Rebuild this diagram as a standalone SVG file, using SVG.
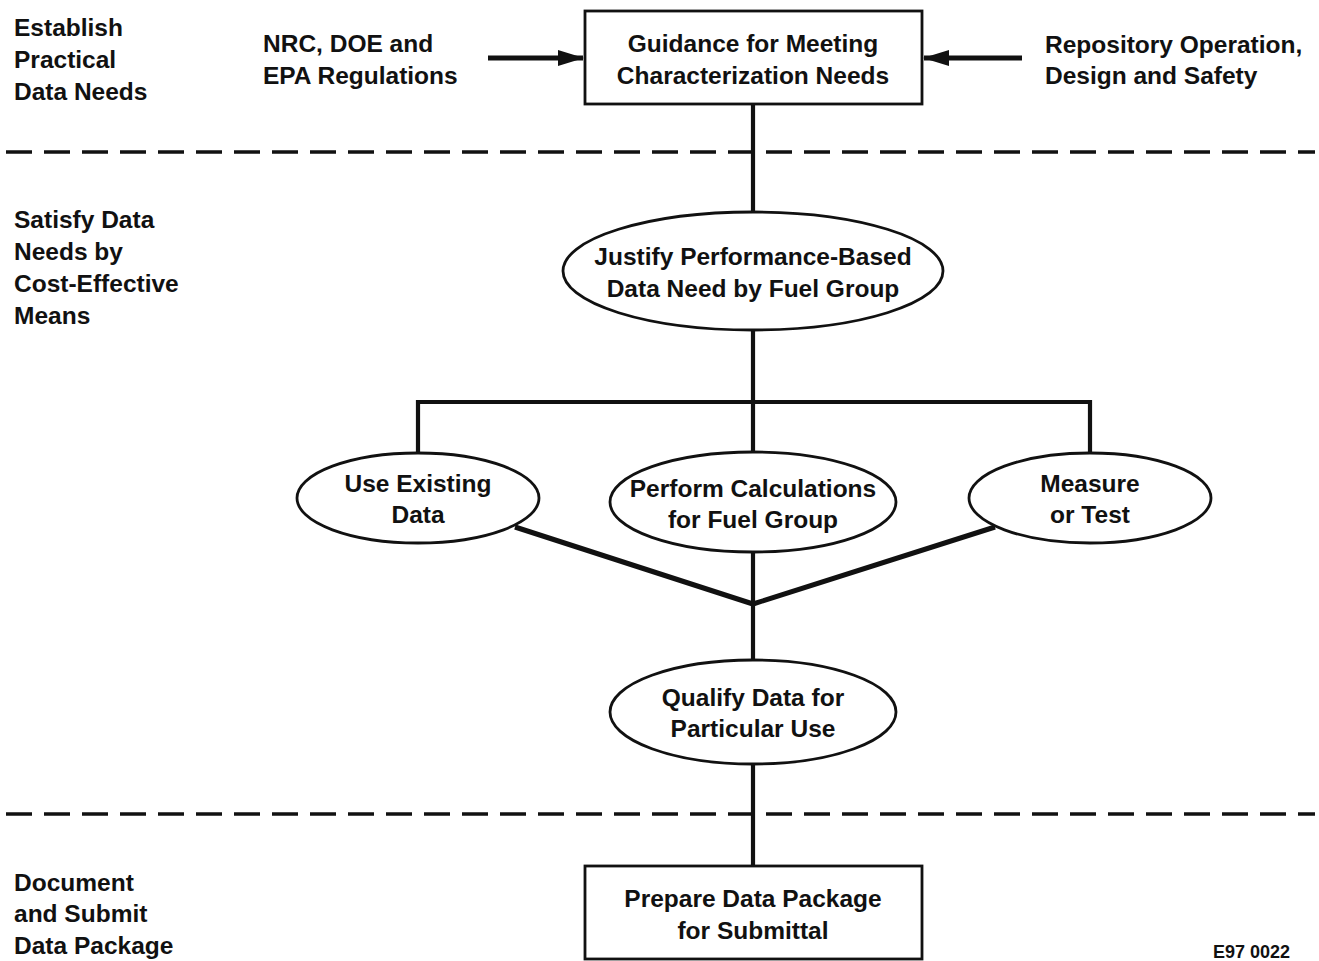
<svg xmlns="http://www.w3.org/2000/svg" width="1319" height="961" viewBox="0 0 1319 961">
<defs>
<style>
text{font-family:"Liberation Sans",Arial,sans-serif;font-size:24.5px;font-weight:bold;fill:#111}
.c{text-anchor:middle}
.shape{fill:#fff;stroke:#111;stroke-width:2.8}
.ln{stroke:#111;stroke-width:4.2;fill:none;stroke-linecap:square}
.arr{stroke:#111;stroke-width:5;fill:none}
.dash{stroke:#111;stroke-width:3.5;stroke-dasharray:26 12;fill:none}
</style>
<marker id="ah" viewBox="0 0 26 16" refX="25" refY="8" markerWidth="26" markerHeight="16" markerUnits="userSpaceOnUse" orient="auto">
<path d="M0,0 L26,8 L0,16 Z" fill="#111"/>
</marker>
</defs>
<rect width="1319" height="961" fill="#fff"/>
<g id="dividers">
<line class="dash" x1="6" y1="152" x2="1315" y2="152"/>
<line class="dash" x1="6" y1="814" x2="1315" y2="814"/>
</g>
<g id="connectors">
<line class="ln" x1="753" y1="104" x2="753" y2="212"/>
<line class="ln" x1="753" y1="330" x2="753" y2="452"/>
<polyline class="ln" points="418,453 418,402 1090,402 1090,453" style="stroke-linecap:butt;stroke-linejoin:miter"/>
<polyline class="ln" points="515,527 753,604 995,527" style="stroke-width:5;stroke-linejoin:miter;stroke-linecap:butt"/>
<line class="ln" x1="753" y1="552" x2="753" y2="660"/>
<line class="ln" x1="753" y1="765" x2="753" y2="866"/>
<line class="arr" x1="488" y1="58" x2="583" y2="58" marker-end="url(#ah)"/>
<line class="arr" x1="1022" y1="58" x2="924" y2="58" marker-end="url(#ah)"/>
</g>
<g id="lbl-establish">
<text x="14" y="36">Establish</text>
<text x="14" y="68">Practical</text>
<text x="14" y="100">Data Needs</text>
</g>
<g id="lbl-satisfy">
<text x="14" y="228">Satisfy Data</text>
<text x="14" y="260">Needs by</text>
<text x="14" y="292">Cost-Effective</text>
<text x="14" y="324">Means</text>
</g>
<g id="lbl-document">
<text x="14" y="891">Document</text>
<text x="14" y="922">and Submit</text>
<text x="14" y="954">Data Package</text>
</g>
<g id="regs">
<text x="263" y="52">NRC, DOE and</text>
<text x="263" y="84">EPA Regulations</text>
</g>
<g id="repo">
<text x="1045" y="53">Repository Operation,</text>
<text x="1045" y="84">Design and Safety</text>
</g>
<g id="guidance">
<rect class="shape" x="585" y="11" width="337" height="93"/>
<text class="c" x="753" y="52">Guidance for Meeting</text>
<text class="c" x="753" y="84">Characterization Needs</text>
</g>
<g id="justify">
<ellipse class="shape" cx="753" cy="271" rx="190" ry="59"/>
<text class="c" x="753" y="265">Justify Performance-Based</text>
<text class="c" x="753" y="297">Data Need by Fuel Group</text>
</g>
<g id="existing">
<ellipse class="shape" cx="418" cy="498" rx="121" ry="45"/>
<text class="c" x="418" y="492">Use Existing</text>
<text class="c" x="418" y="523">Data</text>
</g>
<g id="calc">
<ellipse class="shape" cx="753" cy="502" rx="143" ry="50"/>
<text class="c" x="753" y="497">Perform Calculations</text>
<text class="c" x="753" y="528">for Fuel Group</text>
</g>
<g id="measure">
<ellipse class="shape" cx="1090" cy="498" rx="121" ry="45"/>
<text class="c" x="1090" y="492">Measure</text>
<text class="c" x="1090" y="523">or Test</text>
</g>
<g id="qualify">
<ellipse class="shape" cx="753" cy="712" rx="143" ry="52"/>
<text class="c" x="753" y="706">Qualify Data for</text>
<text class="c" x="753" y="737">Particular Use</text>
</g>
<g id="prepare">
<rect class="shape" x="585" y="866" width="337" height="93"/>
<text class="c" x="753" y="907">Prepare Data Package</text>
<text class="c" x="753" y="939">for Submittal</text>
</g>
<g id="code">
<text x="1290" y="958" style="font-size:18px;text-anchor:end">E97 0022</text>
</g>
</svg>
